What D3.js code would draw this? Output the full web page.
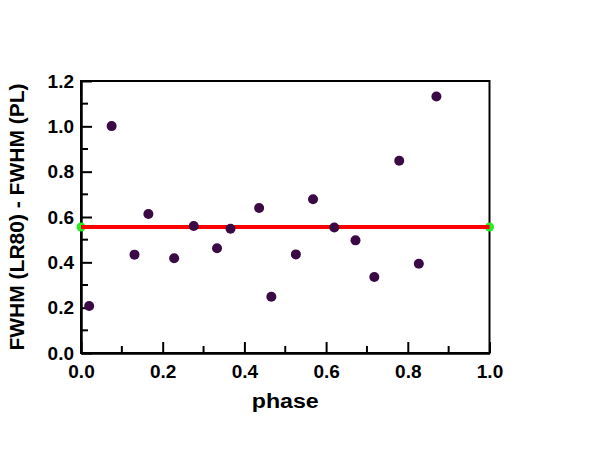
<!DOCTYPE html>
<html>
<head>
<meta charset="utf-8">
<script src="https://cdn.jsdelivr.net/npm/d3@7"></script>
<style>
  body { margin: 0; background: #fff; }
  text { font-family: "Liberation Sans", Arial, sans-serif; font-weight: bold; fill: #000; }
</style>
</head>
<body>
<div id="chart"></div>
<script>
// data
var phase = [0.020, 0.075, 0.131, 0.165, 0.228, 0.276, 0.333, 0.366, 0.436,
             0.466, 0.526, 0.568, 0.620, 0.672, 0.718, 0.779, 0.827, 0.870];
var fwhmDiff = [0.207, 1.001, 0.434, 0.613, 0.418, 0.560, 0.462, 0.548, 0.640,
                0.248, 0.435, 0.678, 0.554, 0.497, 0.335, 0.848, 0.394, 1.132];
var meanLevel = 0.556;
var xTicks = [0, 0.2, 0.4, 0.6, 0.8, 1.0];
var yTicks = [0, 0.2, 0.4, 0.6, 0.8, 1.0, 1.2];

var svgWidth = 598, svgHeight = 462;
var margin = { top: 81, left: 81, right: 598 - 489.5, bottom: 462 - 353 };
var width = svgWidth - margin.left - margin.right;
var height = svgHeight - margin.top - margin.bottom;

var svg = d3.select("#chart").append("svg")
            .attr("width", svgWidth)
            .attr("height", svgHeight);

var g = svg.append("g")
           .attr("transform", `translate(${margin.left}, ${margin.top})`);

var x = d3.scaleLinear().domain([0, 1]).range([0, width]);
var y = d3.scaleLinear().domain([0, 1.2]).range([height, 0]);

// frame (top + right)
g.append("rect")
 .attr("width", width).attr("height", height)
 .attr("fill", "none").attr("stroke", "#000").attr("stroke-width", 2);

// minor ticks (inward)
var xMinor = d3.range(0.1, 1.0, 0.2);
var yMinor = d3.range(0.1, 1.2, 0.2);
g.selectAll(".xminor").data(xMinor).enter().append("line")
 .attr("x1", d => x(d)).attr("x2", d => x(d))
 .attr("y1", height).attr("y2", height - 7)
 .attr("stroke", "#000").attr("stroke-width", 2);
g.selectAll(".yminor").data(yMinor).enter().append("line")
 .attr("x1", 0).attr("x2", 7)
 .attr("y1", d => y(d)).attr("y2", d => y(d))
 .attr("stroke", "#000").attr("stroke-width", 2);

// axes with inward major ticks
var xAxis = d3.axisBottom(x).tickValues(xTicks).tickFormat(d3.format(".1f"))
              .tickSizeInner(-11).tickSizeOuter(0);
var yAxis = d3.axisLeft(y).tickValues(yTicks).tickFormat(d3.format(".1f"))
              .tickSizeInner(-11).tickSizeOuter(0);

var xg = g.append("g").attr("transform", `translate(0, ${height})`).call(xAxis);
var yg = g.append("g").call(yAxis);
[xg, yg].forEach(function(a) {
  a.select(".domain").attr("stroke-width", 2.5);
  a.selectAll(".tick line").attr("stroke", "#000").attr("stroke-width", 2);
  a.selectAll(".tick text").attr("font-size", "19px")
   .attr("font-family", "Liberation Sans, Arial, sans-serif").attr("font-weight", "bold");
});
yg.selectAll(".tick text").attr("x", -7);
xg.selectAll(".tick text").attr("y", 12);

// green end markers, red mean line
g.selectAll(".endpt").data([0, 1]).enter().append("circle")
 .attr("cx", d => x(d)).attr("cy", y(meanLevel)).attr("r", 4.5)
 .attr("fill", "#22ee22");
g.append("line")
 .attr("x1", x(0)).attr("x2", x(1))
 .attr("y1", y(meanLevel)).attr("y2", y(meanLevel))
 .attr("stroke", "#ff0000").attr("stroke-width", 4);

// data points
g.selectAll(".pt").data(phase).enter().append("circle")
 .attr("cx", d => x(d))
 .attr("cy", (d, i) => y(fwhmDiff[i]))
 .attr("r", 5)
 .attr("fill", "#3a0a45");

// axis labels
g.append("text")
 .attr("transform", `translate(${23.5 - margin.left}, ${height / 2}) rotate(-90)`)
 .attr("text-anchor", "middle")
 .attr("font-size", "21px")
 .text("FWHM (LR80) - FWHM (PL)");

g.append("text")
 .attr("x", width / 2).attr("y", height + 55)
 .attr("text-anchor", "middle")
 .attr("font-size", "20px")
 .attr("textLength", 67)
 .attr("lengthAdjust", "spacingAndGlyphs")
 .text("phase");
</script>
</body>
</html>
